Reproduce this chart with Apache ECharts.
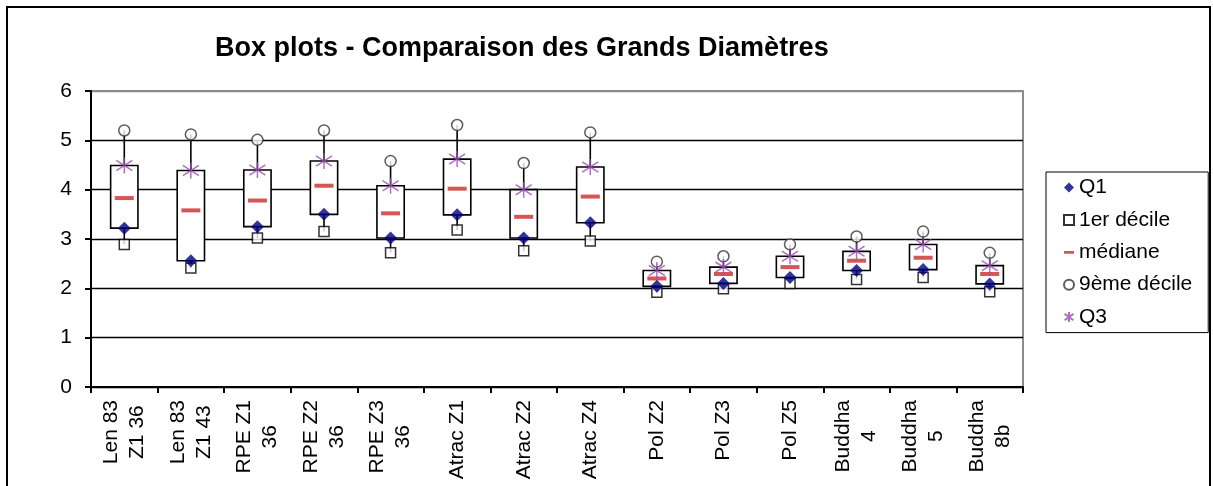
<!DOCTYPE html>
<html>
<head>
<meta charset="utf-8">
<script src="https://cdn.jsdelivr.net/npm/echarts@6/dist/echarts.min.js"></script>
<style>
  html, body { margin: 0; padding: 0; background: #fff; }
  #chart { width: 1213px; height: 486px; }
</style>
</head>
<body>
<div id="chart"></div>
<script>
// Sample groups (two-line labels split with \n)
const categories = [
  'Len 83\nZ1 36', 'Len 83\nZ1 43', 'RPE Z1\n36', 'RPE Z2\n36', 'RPE Z3\n36',
  'Atrac Z1', 'Atrac Z2', 'Atrac Z4', 'Pol Z2', 'Pol Z3', 'Pol Z5',
  'Buddha\n4', 'Buddha\n5', 'Buddha\n8b'
];
// Distribution statistics of the large diameters per group
const decile1   = [2.89, 2.41, 3.02, 3.15, 2.72, 3.18, 2.76, 2.96, 1.92, 1.99, 2.10, 2.18, 2.22, 1.93];
const quartile1 = [3.22, 2.56, 3.25, 3.50, 3.02, 3.49, 3.02, 3.33, 2.04, 2.10, 2.22, 2.36, 2.38, 2.09];
const medians   = [3.83, 3.58, 3.78, 4.08, 3.52, 4.02, 3.45, 3.86, 2.20, 2.29, 2.43, 2.56, 2.62, 2.29];
const quartile3 = [4.49, 4.39, 4.40, 4.58, 4.08, 4.62, 4.00, 4.46, 2.36, 2.43, 2.65, 2.75, 2.89, 2.46];
const decile9   = [5.20, 5.12, 5.01, 5.20, 4.58, 5.31, 4.54, 5.16, 2.54, 2.65, 2.89, 3.05, 3.15, 2.72];

const FONT = "'Liberation Sans', Arial, sans-serif";
const STAR = 'path://M5,0L5,10M0.6,1.8L9.4,8.2M0.6,8.2L9.4,1.8';
const DASH = 'path://M0,0L0.01,0M0,3.6H10V6.4H0ZM10,10L9.99,10';

const pairs = arr => arr.map((v, i) => [i, v]);

const chart = echarts.init(document.getElementById('chart'), null, { renderer: 'canvas' });

chart.setOption({
  animation: false,
  backgroundColor: '#fff',
  textStyle: { fontFamily: FONT },
  title: {
    text: 'Box plots - Comparaison des Grands Diamètres',
    left: 215,
    top: 35,
    padding: 0,
    textStyle: { fontFamily: FONT, fontSize: 27, fontWeight: 'bold', color: '#000' }
  },
  graphic: [{
    type: 'rect',
    shape: { x: 7, y: 7, width: 1203, height: 600 },
    style: { fill: 'none', stroke: '#000', lineWidth: 2 },
    silent: true,
    z: 100
  }],
  legend: {
    orient: 'vertical',
    left: 1046,
    top: 172,
    padding: [5, 16, 5, 17],
    itemGap: 11.4,
    itemWidth: 10,
    itemHeight: 10,
    borderColor: '#000',
    borderWidth: 1,
    selectedMode: false,
    textStyle: { fontFamily: FONT, fontSize: 21, color: '#000' },
    data: [
      { name: 'Q1', icon: 'diamond' },
      { name: '1er décile', icon: 'rect' },
      { name: 'médiane', icon: DASH },
      { name: '9ème décile', icon: 'circle' },
      { name: 'Q3', icon: STAR }
    ]
  },
  grid: {
    left: 91, top: 91, right: 190, bottom: 99,
    outerBoundsMode: 'none',
    containLabel: false,
    show: true,
    borderColor: '#8c8c8c',
    borderWidth: 2,
    backgroundColor: '#fff'
  },
  xAxis: {
    type: 'category',
    data: categories,
    boundaryGap: true,
    axisLine: { show: true, lineStyle: { color: '#000', width: 2 } },
    axisTick: { show: true, length: 6, lineStyle: { color: '#000', width: 2 } },
    splitLine: { show: false },
    axisLabel: {
      interval: 0,
      rotate: 90,
      margin: 13,
      color: '#000',
      formatter: v => v.split('\n').map(s => '{c|' + s + '}').join('\n'),
      rich: {
        c: { align: 'center', fontFamily: FONT, fontSize: 21, lineHeight: 26, color: '#000' }
      }
    }
  },
  yAxis: {
    type: 'value',
    min: 0,
    max: 6,
    interval: 1,
    axisLine: { show: true, lineStyle: { color: '#000', width: 2 } },
    axisTick: { show: true, length: 6, lineStyle: { color: '#000', width: 2 } },
    splitLine: {
      show: true,
      lineStyle: { color: ['#000', '#000', '#000', '#000', '#000', '#000', '#8c8c8c'], width: 1.3 }
    },
    axisLabel: { margin: 19, fontFamily: FONT, fontSize: 21, color: '#000' }
  },
  series: [
    {
      type: 'custom',
      name: 'boites',
      z: 2,
      silent: true,
      encode: { x: 0, y: [1, 2, 3, 4] },
      data: categories.map((c, i) => [i, decile1[i], quartile1[i], quartile3[i], decile9[i]]),
      renderItem: function (params, api) {
        const x = api.value(0);
        const pD1 = api.coord([x, api.value(1)]);
        const pQ1 = api.coord([x, api.value(2)]);
        const pQ3 = api.coord([x, api.value(3)]);
        const pD9 = api.coord([x, api.value(4)]);
        const w = api.size([1, 0])[0] * 0.41;
        const ls = { stroke: '#000', lineWidth: 1.6 };
        return {
          type: 'group',
          children: [
            { type: 'line', shape: { x1: pQ3[0], y1: pQ3[1], x2: pD9[0], y2: pD9[1] }, style: ls },
            { type: 'line', shape: { x1: pQ1[0], y1: pQ1[1], x2: pD1[0], y2: pD1[1] }, style: ls },
            {
              type: 'rect',
              shape: { x: pQ3[0] - w / 2, y: pQ3[1], width: w, height: pQ1[1] - pQ3[1] },
              style: { fill: '#fff', stroke: '#000', lineWidth: 1.6 }
            }
          ]
        };
      }
    },
    {
      type: 'scatter', name: '1er décile', z: 3,
      symbol: 'rect', symbolSize: 10,
      itemStyle: { color: '#fff', borderColor: '#000', borderWidth: 1.5 },
      data: pairs(decile1)
    },
    {
      type: 'scatter', name: '9ème décile', z: 3,
      symbol: 'circle', symbolSize: 11,
      itemStyle: { color: '#fff', borderColor: '#333', borderWidth: 1.5 },
      data: pairs(decile9)
    },
    {
      type: 'scatter', name: 'médiane', z: 4,
      symbol: 'rect', symbolSize: [19, 4],
      itemStyle: { color: '#cc2a2a' },
      data: pairs(medians)
    },
    {
      type: 'scatter', name: 'Q3', z: 5,
      symbol: STAR, symbolSize: 16,
      itemStyle: { color: 'rgba(0,0,0,0)', borderColor: '#9b4bb5', borderWidth: 1.5 },
      data: pairs(quartile3)
    },
    {
      type: 'scatter', name: 'Q1', z: 5,
      symbol: 'diamond', symbolSize: 13,
      itemStyle: { color: '#000080' },
      data: pairs(quartile1)
    }
  ]
});
</script>
</body>
</html>
